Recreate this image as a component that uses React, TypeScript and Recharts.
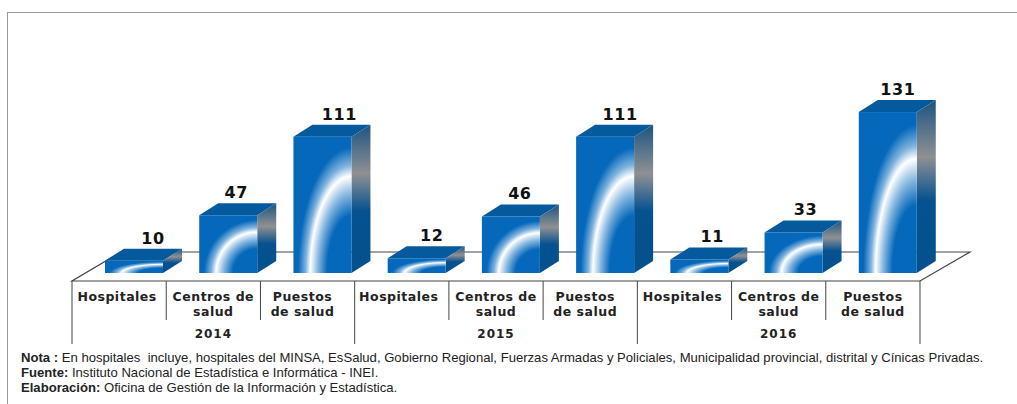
import { BarChart, Bar, XAxis, YAxis, LabelList } from "recharts";

const years = ["2014", "2014", "2014", "2015", "2015", "2015", "2016", "2016", "2016"];
const categories = [
  "Hospitales", "Centros de salud", "Puestos de salud",
  "Hospitales", "Centros de salud", "Puestos de salud",
  "Hospitales", "Centros de salud", "Puestos de salud",
];
const values = [10, 47, 111, 12, 46, 111, 11, 33, 131];

const labelLines: Record<string, string[]> = {
  Hospitales: ["Hospitales"],
  "Centros de salud": ["Centros de", "salud"],
  "Puestos de salud": ["Puestos", "de salud"],
};

const data = categories.map((category, i) => ({
  category,
  year: years[i],
  value: values[i],
}));

// the labels in the picture are not quite centred, so nudge them by hand
const tickNudge = [-2, 0, -5, -3, 0, -5, -2, 0, 0];
const valueNudge = [8, -3, 6, 4, -2, 4, 2, 1, -1];

const BOLD = "'DejaVu Sans', sans-serif";
const LINE = "#444";
const HALF_BAND = 47.1;
const SHIFT = 15;
const DX = 19;
const DY = 12;

function Box(props: any) {
  const { x, y, width, height } = props;
  const l = x + SHIFT;
  const r = l + width;
  const b = y + height;
  return (
    <g>
      <path d={`M${l} ${y}L${l + DX} ${y - DY}L${r + DX} ${y - DY}L${r} ${y}Z`} fill="#055a9e" />
      <path d={`M${r} ${y}L${r + DX} ${y - DY}L${r + DX} ${b - DY}L${r} ${b}Z`} fill="url(#sideFace)" />
      <rect x={l} y={y} width={width} height={height} fill="url(#frontFace)" />
    </g>
  );
}

function ValueLabel(props: any) {
  const { x, y, width, value, index } = props;
  return (
    <text
      x={x + SHIFT + width / 2 + 11 + valueNudge[index]}
      y={y - DY - 5}
      textAnchor="middle"
      fontFamily={BOLD}
      fontWeight="bold"
      fontSize={16}
      letterSpacing={0.6}
      fill="#111"
    >
      {value}
    </text>
  );
}

function CategoryTick(props: any) {
  const { x, index, payload } = props;
  const lines = labelLines[payload.value] || [payload.value];
  const first = index % 3 === 0;
  return (
    <g>
      <line x1={x - HALF_BAND} x2={x - HALF_BAND} y1={281} y2={first ? 344 : 320} stroke={LINE} />
      {index === 8 && <line x1={x + HALF_BAND} x2={x + HALF_BAND} y1={281} y2={344} stroke={LINE} />}
      {lines.map((t, i) => (
        <text
          key={t}
          x={x + tickNudge[index]}
          y={301 + i * 15}
          textAnchor="middle"
          fontFamily={BOLD}
          fontWeight="bold"
          fontSize={12.5}
          letterSpacing={0.5}
          fill="#222"
        >
          {t}
        </text>
      ))}
    </g>
  );
}

function YearTick(props: any) {
  const { x, index, payload } = props;
  if (index % 3 !== 1) return <g />;
  return (
    <text
      x={x}
      y={338}
      textAnchor="middle"
      fontFamily={BOLD}
      fontWeight="bold"
      fontSize={12}
      letterSpacing={1}
      fill="#222"
    >
      {payload.value}
    </text>
  );
}

const noteStyle: React.CSSProperties = {
  position: "absolute",
  left: 21,
  whiteSpace: "nowrap",
  fontFamily: "'Liberation Sans', Arial, sans-serif",
  fontSize: 13.1,
  lineHeight: "15px",
  color: "#222",
};

export default function App() {
  return (
    <div
      style={{
        position: "absolute",
        left: 0,
        top: 0,
        width: 1017,
        height: 404,
        background: "#fff",
        overflow: "hidden",
      }}
    >
      <div style={{ position: "absolute", left: 7, top: 12, width: 1010, height: 392, borderTop: "1px solid #999", borderLeft: "1px solid #999" }} />

      <div style={{ position: "absolute", left: 0, top: 0 }}>
        <BarChart
          width={1017}
          height={404}
          data={data}
          margin={{ top: 101, right: 97, left: 72, bottom: 61 }}
          barCategoryGap={0}
        >
          <defs>
            <radialGradient id="frontFace" cx="1" cy="1" r="1">
              <stop offset="0.42" stopColor="#0568bb" />
              <stop offset="0.58" stopColor="#86b7e0" />
              <stop offset="0.71" stopColor="#ffffff" />
              <stop offset="0.79" stopColor="#7fb3de" />
              <stop offset="0.92" stopColor="#0568bb" />
            </radialGradient>
            <linearGradient id="sideFace" x1="0" y1="0" x2="0" y2="1">
              <stop offset="0" stopColor="#1c5482" />
              <stop offset="0.33" stopColor="#8f9093" />
              <stop offset="0.58" stopColor="#06518f" />
              <stop offset="1" stopColor="#04518e" />
            </linearGradient>
          </defs>

          <polyline points="121,252 970,252 920,281 72,281 121,252" fill="none" stroke={LINE} strokeWidth={1.2} />

          <XAxis
            dataKey="category"
            interval={0}
            height={48}
            axisLine={false}
            tickLine={false}
            tick={<CategoryTick />}
          />
          <XAxis
            xAxisId="year"
            dataKey="year"
            interval={0}
            height={22}
            axisLine={false}
            tickLine={false}
            tick={<YearTick />}
          />
          <YAxis hide domain={[0, 140]} />

          <Bar dataKey="value" barSize={58} shape={<Box />} isAnimationActive={false}>
            <LabelList dataKey="value" content={<ValueLabel />} />
          </Bar>
        </BarChart>
      </div>

      <div style={{ ...noteStyle, top: 350 }}>
        <b>Nota :</b> En hospitales&nbsp; incluye, hospitales del MINSA, EsSalud, Gobierno Regional, Fuerzas Armadas y Policiales, Municipalidad provincial, distrital y Cínicas Privadas.
      </div>
      <div style={{ ...noteStyle, top: 365 }}>
        <b>Fuente:</b> Instituto Nacional de Estadística e Informática - INEI.
      </div>
      <div style={{ ...noteStyle, top: 380 }}>
        <b>Elaboración:</b> Oficina de Gestión de la Información y Estadística.
      </div>
    </div>
  );
}
